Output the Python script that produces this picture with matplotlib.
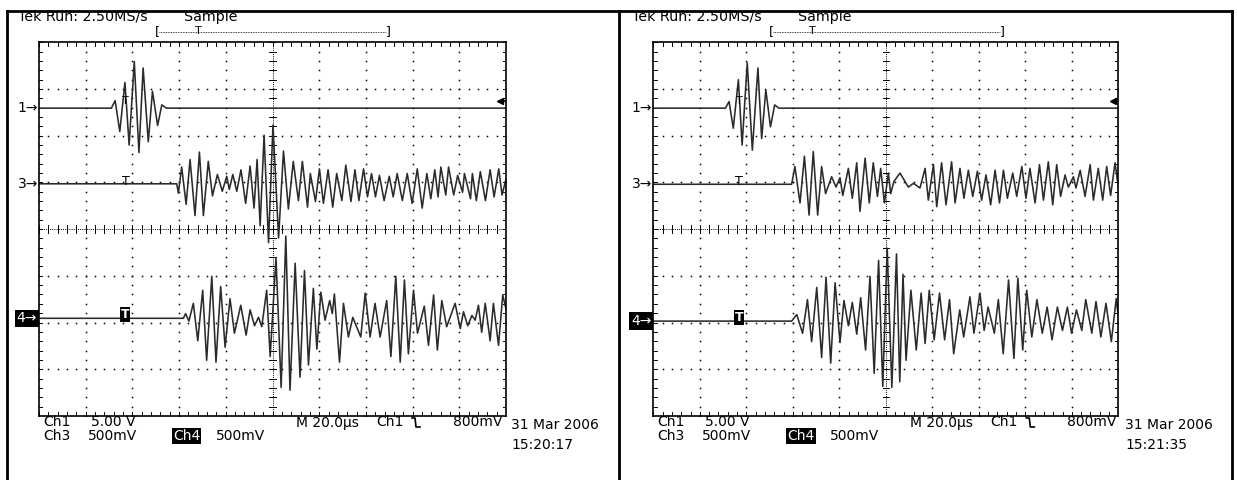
import numpy as np
import matplotlib.pyplot as plt
from matplotlib.lines import Line2D

W, H = 1237, 480

# ---- trace data read off the two captures: time in us, level in V ----
# left capture (15:20:17)
l_ch1_t = [0, 31.0, 32.6, 34.6, 36.8, 38.6, 40.8, 42.8, 44.6, 46.8, 48.6, 50.8, 52.6, 54.5, 200]
l_ch1_v = [0, 0, 0.8, -2.5, 2.75, -3.95, 5.0, -4.75, 4.3, -3.6, 1.8, -1.85, 0.35, 0, 0]

l_ch3_t = [0, 59.0, 59.7, 61.1, 63.0, 64.7, 66.8, 68.7, 70.4, 72.5, 74.3, 76.4, 78.5, 80.4, 81.5,
           83.0, 84.7, 86.5, 88.5, 90.4, 92.1, 93.4, 94.7, 96.4, 98.3, 100.2, 102.6, 104.7, 106.8,
           108.9, 111.1, 112.8, 115.0, 116.2, 118.4, 120.1, 121.8, 123.8, 125.8, 127.5, 129.7,
           131.4, 133.6, 135.3, 137.0, 139.0, 140.7, 142.4, 144.1, 145.8, 147.8, 150.0, 151.7,
           153.4, 155.6, 157.7, 159.8, 162.0, 164.1, 166.1, 167.8, 169.5, 170.9, 172.1, 174.2,
           175.4, 177.6, 179.3, 181.4, 182.2, 184.8, 185.6, 187.3, 189.0, 191.2, 193.2, 194.9,
           196.9, 198.3, 200]
l_ch3_v = [0, 0, -0.10, 0.18, -0.22, 0.26, -0.34, 0.34, -0.34, 0.24, -0.13, 0.10, -0.08, 0.08, -0.06,
           0.10, -0.08, 0.15, -0.21, 0.19, -0.26, 0.26, -0.45, 0.52, -0.63, 0.63, -0.58, 0.35, -0.27,
           0.24, -0.18, 0.24, -0.25, 0.11, -0.19, 0.16, -0.21, 0.15, -0.25, 0.11, -0.18,
           0.20, -0.19, 0.15, -0.18, 0.16, -0.14, 0.11, -0.14, 0.09, -0.18, 0.08, -0.14,
           0.11, -0.18, 0.11, -0.21, 0.16, -0.26, 0.11, -0.16, 0.15, -0.14, 0.18, -0.12,
           0.18, -0.12, 0.09, -0.09, 0.11, -0.16, 0.11, -0.18, 0.13, -0.18, 0.15, -0.14,
           0.16, -0.12, 0.05]

l_ch4_t = [0, 61.8, 62.8, 64.2, 66.1, 68.0, 70.1, 71.8, 74.0, 75.8, 77.8, 79.7, 81.8, 83.7, 86.4,
           88.7, 90.4, 92.3, 94.0, 95.4, 97.5, 99.0, 101.5, 103.7, 105.7, 107.5, 109.7, 111.8,
           113.7, 115.4, 117.5, 119.0, 120.7, 122.5, 124.5, 125.6, 126.5, 128.7, 130.4, 132.5,
           134.4, 136.0, 137.8, 139.7, 141.8, 143.9, 146.1, 148.9, 150.7, 152.8, 154.7, 156.5,
           158.2, 160.4, 162.1, 165.0, 166.8, 169.0, 170.6, 172.5, 174.6, 178.2, 180.4, 181.8,
           183.6, 185.4, 186.8, 188.2, 189.6, 191.1, 193.2, 194.6, 196.8, 198.6, 200]
l_ch4_v = [0, 0, 0.05, -0.03, 0.16, -0.24, 0.30, -0.45, 0.45, -0.47, 0.34, -0.31, 0.21, -0.16, 0.14,
           -0.18, 0.09, -0.08, 0.01, -0.09, 0.30, -0.41, 0.65, -0.74, 0.88, -0.77, 0.59, -0.63,
           0.51, -0.50, 0.32, -0.33, 0.28, -0.02, 0.19, 0.05, 0.26, -0.47, 0.16, -0.20,
           0.01, -0.09, -0.20, 0.27, -0.20, 0.16, -0.20, 0.19, -0.41, 0.45, -0.47, 0.41,
           -0.38, 0.30, -0.16, 0.13, -0.29, 0.25, -0.34, 0.19, -0.09, 0.16, -0.11, 0.07,
           -0.08, 0.03, -0.02, 0.14, -0.15, 0.16, -0.24, 0.16, -0.29, 0.25, 0.10]

# right capture (15:21:35)
r_ch1_t = [0, 31.0, 32.6, 34.4, 36.6, 38.2, 40.4, 42.6, 45.0, 46.6, 48.4, 50.4, 52.2, 54.0, 200]
r_ch1_v = [0, 0, 0.7, -2.15, 3.05, -3.95, 4.85, -4.5, 4.3, -3.25, 1.95, -2.0, 0.35, 0, 0]

r_ch3_t = [0, 59.5, 60.9, 63.1, 65.0, 67.0, 68.8, 70.7, 72.4, 74.1, 76.7, 78.6, 80.3, 81.5, 83.9,
           85.6, 87.5, 88.9, 91.1, 92.9, 94.6, 96.4, 97.8, 99.4, 101.1, 102.1, 103.5, 106.1,
           109.7, 111.9, 114.7, 116.9, 118.3, 120.5, 121.9, 124.0, 125.9, 128.3, 129.8, 131.9,
           133.6, 135.5, 137.4, 139.4, 141.2, 143.1, 145.1, 147.0, 148.9, 150.6, 152.3, 154.6,
           156.3, 158.5, 160.3, 162.0, 164.2, 166.1, 167.8, 169.9, 171.8, 173.5, 175.2, 177.1,
           178.5, 180.7, 181.8, 183.6, 185.7, 187.9, 189.3, 191.4, 193.3, 195.0, 196.7, 198.6, 200]
r_ch3_v = [0, 0, 0.19, -0.20, 0.30, -0.33, 0.35, -0.33, 0.19, -0.10, 0.08, -0.03, 0.07, -0.12, 0.17,
           -0.15, 0.23, -0.29, 0.28, -0.20, 0.23, -0.13, 0.17, -0.20, 0.12, -0.10, 0.03, 0.12,
           -0.03, 0.01, -0.04, 0.17, -0.17, 0.21, -0.24, 0.23, -0.22, 0.24, -0.20, 0.17,
           -0.15, 0.15, -0.13, 0.14, -0.17, 0.10, -0.22, 0.15, -0.20, 0.15, -0.15, 0.12,
           -0.13, 0.19, -0.15, 0.17, -0.20, 0.21, -0.17, 0.24, -0.22, 0.21, -0.13, 0.10,
           -0.03, 0.08, -0.04, 0.15, -0.13, 0.21, -0.17, 0.17, -0.17, 0.19, -0.12, 0.23, -0.03]

r_ch4_t = [0, 59.5, 61.7, 64.2, 66.3, 68.1, 70.3, 72.4, 74.3, 76.3, 78.2, 80.3, 82.0, 83.9, 85.6,
           87.5, 89.2, 91.3, 93.2, 95.0, 96.9, 98.7, 100.6, 102.6, 104.6, 106.0, 107.4, 108.7,
           110.8, 113.1, 115.2, 116.9, 118.7, 120.8, 123.1, 125.3, 127.4, 129.2, 131.8, 133.5,
           136.2, 137.9, 140.5, 142.3, 144.0, 146.7, 148.4, 150.5, 152.8, 155.1, 156.8, 158.9,
           160.6, 162.8, 165.0, 167.3, 169.4, 171.5, 173.8, 176.0, 178.1, 179.9, 182.0, 184.3,
           186.0, 188.6, 190.4, 192.5, 194.7, 197.0, 199.1, 200]
r_ch4_v = [0, 0, 0.07, -0.13, 0.23, -0.22, 0.36, -0.39, 0.47, -0.45, 0.41, -0.23, 0.22, -0.05, 0.20,
           -0.14, 0.25, -0.31, 0.48, -0.56, 0.65, -0.70, 0.78, -0.71, 0.72, -0.65, 0.50, -0.42,
           0.33, -0.31, 0.30, -0.24, 0.33, -0.20, 0.30, -0.20, 0.23, -0.35, 0.12, -0.17,
           0.26, -0.13, 0.30, -0.10, 0.15, -0.13, 0.23, -0.35, 0.44, -0.40, 0.46, -0.31,
           0.33, -0.17, 0.23, -0.13, 0.15, -0.20, 0.15, -0.10, 0.15, -0.13, 0.12, -0.10,
           0.23, -0.13, 0.21, -0.17, 0.19, -0.22, 0.24, 0.05]

volts_per_div = {'1': 5.0, '3': 0.5, '4': 0.5}
us_per_div = 20.0
trig_level = 0.8   # V on ch1
trig_time = 37.0   # us

fig = plt.figure(figsize=(W / 100, H / 100), dpi=100)
plt.rcParams['font.family'] = 'DejaVu Sans'


def ptext(x, y, s, **kw):
    kw.setdefault('fontsize', 10)
    kw.setdefault('va', 'center')
    return fig.text(x / W, 1 - y / H, s, **kw)


def pline(xs, ys, **kw):
    fig.add_artist(Line2D([x / W for x in xs], [1 - y / H for y in ys], **kw))


def draw_panel(gx, dx, gy, dy, traces, bases, clock):
    ax = fig.add_axes([gx / W, 1 - (gy + 8 * dy) / H, 10 * dx / W, 8 * dy / H])
    ax.set_xlim(0, 10)
    ax.set_ylim(0, 8)
    ax.set_xticks([])
    ax.set_yticks([])
    for s in ax.spines.values():
        s.set_linewidth(1.2)
    # graticule dots
    xs = np.arange(0, 10.01, 0.2)
    ys = np.arange(0, 8.01, 0.2)
    for i in range(1, 10):
        if i != 5:
            ax.plot(np.full_like(ys, i), ys, ls='none', marker='s', ms=1.1, mew=0, color='k')
    for j in range(1, 8):
        if j != 4:
            ax.plot(xs, np.full_like(xs, j), ls='none', marker='s', ms=1.1, mew=0, color='k')
    # centre cross and edge ticks
    ax.axvline(5, ls=(0, (1, 1.2)), lw=0.7, color='k')
    ax.axhline(4, ls=(0, (1, 1.2)), lw=0.7, color='k')
    for y in ys:
        ax.plot([4.93, 5.07], [y, y], lw=0.7, color='k')
        ax.plot([0, 0.07], [y, y], lw=0.7, color='k')
        ax.plot([9.93, 10], [y, y], lw=0.7, color='k')
    for x in xs:
        ax.plot([x, x], [3.92, 4.08], lw=0.7, color='k')
        ax.plot([x, x], [0, 0.08], lw=0.7, color='k')
        ax.plot([x, x], [7.92, 8], lw=0.7, color='k')
    # traces
    for ch, (t, v) in traces.items():
        ax.plot(np.array(t) / us_per_div, bases[ch] + np.array(v) / volts_per_div[ch],
                color='#2b2b2b', lw=1.15)
    # trigger markers
    tx = trig_time / us_per_div
    ax.text(tx, bases['1'] + trig_level / volts_per_div['1'], 'T', fontsize=8,
            ha='center', va='center')
    ax.text(tx, bases['3'] + 0.05, 'T', fontsize=9, ha='center', va='center')
    ax.text(tx, bases['4'] + 0.08, 'T', fontsize=9, ha='center', va='center', color='white',
            fontweight='bold', bbox=dict(fc='black', ec='none', pad=0.5))
    ax.plot([9.88], [bases['1'] + trig_level / volts_per_div['1']], marker='<', ms=5,
            color='k', clip_on=False)
    ax.plot([9.88, 10], [bases['1'] + trig_level / volts_per_div['1']] * 2, lw=1.2, color='k')

    # channel ground labels
    for ch in ['1', '3']:
        yb = gy + (8 - bases[ch]) * dy
        ptext(gx - 1, yb, ch + '\u2192', ha='right', fontsize=10)
    yb = gy + (8 - bases['4']) * dy
    ptext(gx - 2, yb, '4\u2192', ha='right', fontsize=10, color='white',
          bbox=dict(fc='black', ec='none', pad=1.2))

    # header
    ptext(gx - 21, 16.5, 'Tek Run: 2.50MS/s', ha='left', fontsize=10.3)
    ptext(gx + 145, 16.5, 'Sample', ha='left', fontsize=10.3)
    ptext(gx + 116, 32, '[', ha='left', fontsize=9)
    ptext(gx + 347, 32, ']', ha='left', fontsize=9)
    pline([gx + 120, gx + 347], [32, 32], lw=0.6, ls=(0, (1, 1)), color='k')
    ptext(gx + 159, 31, 'T', ha='center', fontsize=8)

    # footer
    ptext(gx + 4, 422.5, 'Ch1', ha='left')
    ptext(gx + 52, 422.5, '5.00 V', ha='left')
    ptext(gx + 4, 436, 'Ch3', ha='left')
    ptext(gx + 49, 436, '500mV', ha='left')
    ptext(gx + 134, 436, 'Ch4', ha='left', color='white',
          bbox=dict(fc='black', ec='none', pad=0.8))
    ptext(gx + 177, 436, '500mV', ha='left')
    ptext(gx + 257, 422.5, 'M 20.0\u00b5s', ha='left')
    ptext(gx + 337, 422.5, 'Ch1', ha='left')
    ex = gx + 373
    pline([ex, ex + 3, ex + 4, ex + 8], [418, 418, 427, 427], lw=1.2, color='k')
    ptext(gx + 463, 422.5, '800mV', ha='right')
    ptext(gx + 472, 425, '31 Mar 2006', ha='left')
    ptext(gx + 472, 445, clock, ha='left')


draw_panel(39, 46.7, 42.3, 46.7,
           {'1': (l_ch1_t, l_ch1_v), '3': (l_ch3_t, l_ch3_v), '4': (l_ch4_t, l_ch4_v)},
           {'1': 6.59, '3': 4.97, '4': 2.09}, '15:20:17')
draw_panel(653.3, 46.5, 42.3, 46.7,
           {'1': (r_ch1_t, r_ch1_v), '3': (r_ch3_t, r_ch3_v), '4': (r_ch4_t, r_ch4_v)},
           {'1': 6.59, '3': 4.96, '4': 2.03}, '15:21:35')

# outer frame of the two-cell table
pline([7, 1232], [11, 11], lw=2, color='k')
pline([7, 7], [11, 480], lw=2, color='k')
pline([619, 619], [11, 480], lw=2, color='k')
pline([1232, 1232], [11, 480], lw=2, color='k')

fig.savefig('out.png', dpi=100)
